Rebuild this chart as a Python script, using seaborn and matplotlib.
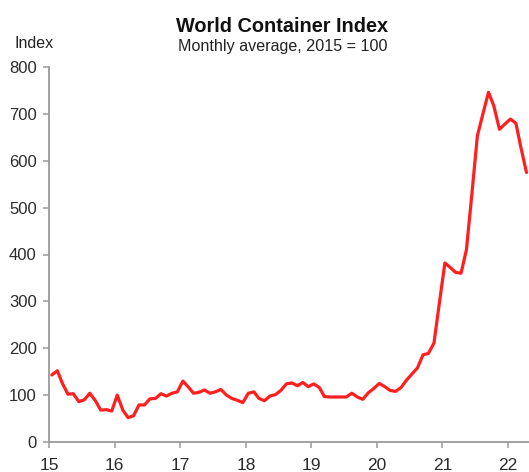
import matplotlib
matplotlib.use("Agg")
import matplotlib.pyplot as plt
import numpy as np
import pandas as pd
import seaborn as sns

# Monthly World Container Index readings (2015 = 100), Jan 2015 - Apr 2022
idx_2015 = [143, 152, 125, 102, 103, 86, 90, 104, 88, 68, 69, 66]
idx_2016 = [100, 68, 52, 56, 79, 79, 92, 93, 103, 98, 104, 107]
idx_2017 = [130, 117, 104, 106, 111, 104, 107, 112, 100, 93, 89, 84]
idx_2018 = [104, 107, 93, 88, 98, 101, 110, 124, 126, 120, 127, 118]
idx_2019 = [124, 116, 97, 96, 96, 96, 96, 104, 96, 91, 105, 114]
idx_2020 = [125, 118, 110, 108, 116, 132, 145, 158, 186, 189, 211, 296]
idx_2021 = [382, 372, 362, 360, 410, 531, 653, 700, 746, 717, 667, 678]
idx_2022 = [689, 680, 628, 575]

series_start = "2015-01"
tick_years = [2015, 2016, 2017, 2018, 2019, 2020, 2021, 2022]
tick_labels = ["15", "16", "17", "18", "19", "20", "21", "22"]
y_ticks = [0, 100, 200, 300, 400, 500, 600, 700, 800]

title = "World Container Index"
subtitle = "Monthly average, 2015 = 100"
y_title = "Index"

values = idx_2015 + idx_2016 + idx_2017 + idx_2018 + idx_2019 + idx_2020 + idx_2021 + idx_2022
# monthly averages are plotted at mid-month
dates = pd.date_range(series_start, periods=len(values), freq="MS") + pd.Timedelta(days=14)
df = pd.DataFrame({"date": dates, "index": values})

sns.set_style("white")
plt.rcParams["font.family"] = ["Liberation Sans", "DejaVu Sans"]

W, H = 529, 472
fig = plt.figure(figsize=(W / 100, H / 100), dpi=100)
ax = fig.add_axes([49.3 / W, 1 - 442 / H, 1 - 49.3 / W, (442 - 67) / H])

sns.lineplot(data=df, x="date", y="index", ax=ax, color="#ff1f1f", linewidth=2.3)

ax.set_ylim(0, 800)
ax.set_yticks(y_ticks)
ax.set_xlim(pd.Timestamp("2015-01-01"), pd.Timestamp("2022-04-29"))
ax.set_xticks([pd.Timestamp(f"{y}-01-01") for y in tick_years])
ax.set_xticklabels(tick_labels)
ax.set_xlabel("")
ax.set_ylabel("")

spine_col = "#9a9a9a"
for side in ["top", "right"]:
    ax.spines[side].set_visible(False)
for side in ["left", "bottom"]:
    ax.spines[side].set_color(spine_col)
    ax.spines[side].set_linewidth(1.3)

ax.tick_params(axis="both", which="major", direction="out", length=4, width=1.1,
               color=spine_col, labelcolor="#2b2b2b")
ax.tick_params(axis="y", left=True, pad=5, labelsize=12)
ax.tick_params(axis="x", bottom=True, pad=7.5, labelsize=12.5)

fig.text(282.5 / W, 1 - 26 / H, title, ha="center", va="center",
         fontsize=14.3, fontweight="bold", color="#111111")
fig.text(282.5 / W, 1 - 47 / H, subtitle, ha="center", va="center",
         fontsize=11.6, color="#222222")
fig.text(34 / W, 1 - 44 / H, y_title, ha="center", va="center",
         fontsize=11.5, color="#222222")

fig.savefig("out.png", dpi=100)
